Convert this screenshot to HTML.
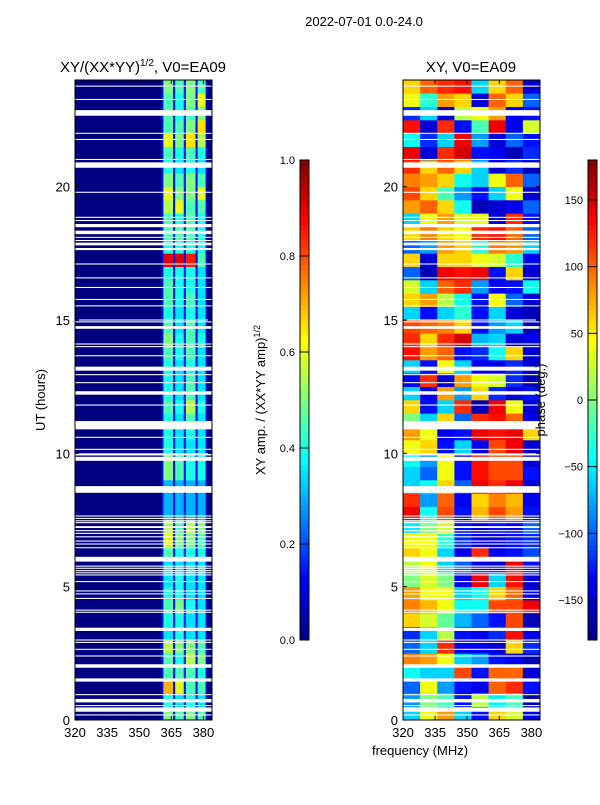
<!DOCTYPE html>
<html><head><meta charset="utf-8">
<style>
html,body{margin:0;padding:0;background:#fff;}
svg text{font-family:"Liberation Sans","DejaVu Sans",sans-serif;fill:#000;}
</style></head>
<body>
<svg id="fig" width="600" height="800" viewBox="0 0 600 800" xmlns="http://www.w3.org/2000/svg">
<text x="364" y="26" font-size="13" text-anchor="middle">2022-07-01 0.0-24.0</text>
<text x="143" y="72" font-size="15" text-anchor="middle">XY/(XX*YY)<tspan font-size="10" dy="-6">1/2</tspan><tspan dy="6">, V0=EA09</tspan></text>
<text x="471" y="72" font-size="15" text-anchor="middle">XY, V0=EA09</text>
<g id="ampPanel"></g>
<g id="phPanel"></g>
<g id="axes"></g>
<text transform="translate(45,400) rotate(-90)" font-size="13" text-anchor="middle">UT (hours)</text>
<text x="420" y="755" font-size="13" text-anchor="middle">frequency (MHz)</text>
<text transform="translate(265,400) rotate(-90)" font-size="13" text-anchor="middle">XY amp. / (XX*YY amp)<tspan font-size="9" dy="-5">1/2</tspan></text>
<text transform="translate(545,400) rotate(-90)" font-size="13" text-anchor="middle">phase (deg.)</text>
</svg>
<script>
// ---- data ----
const freqRange = [320, 384];
const timeRange = [0, 24];
const xTicks = [320, 335, 350, 365, 380];
const yTicks = [0, 5, 10, 15, 20];
const ampTicks = [0.0, 0.2, 0.4, 0.6, 0.8, 1.0];
const phaseTicks = [-150, -100, -50, 0, 50, 100, 150];
const ampBackground = 0.0;
const bandGapLevel = 0.14;
const bandRange = [360.5, 381.5];
const subbands = [[361.3,365.8],[366.8,370.8],[371.8,376.3],[377.3,381]];
// amplitude per half-hour row (row 0 = 0-0.5h) per subband
const ampRows = [
[0.5,0.45,0.5,0.45],[0.4,0.35,0.4,0.35],[0.7,0.6,0.45,0.45],[0.45,0.45,0.45,0.4],
[0.45,0.4,0.55,0.5],[0.55,0.5,0.5,0.45],[0.35,0.4,0.35,0.35],[0.4,0.4,0.35,0.35],
[0.45,0.5,0.4,0.35],[0.4,0.4,0.35,0.35],[0.35,0.4,0.35,0.35],[0.35,0.35,0.35,0.35],
[0.45,0.4,0.4,0.4],[0.6,0.5,0.5,0.45],[0.55,0.45,0.55,0.5],[0.3,0.3,0.3,0.3],
[0.3,0.3,0.3,0.3],[0.3,0.3,0.3,0.3],[0.5,0.45,0.4,0.4],[0.5,0.45,0.4,0.4],
[0.4,0.35,0.35,0.35],[0.4,0.35,0.4,0.35],[0.4,0.35,0.45,0.35],[0.45,0.4,0.55,0.4],
[0.4,0.35,0.45,0.35],[0.4,0.35,0.45,0.35],[0.4,0.35,0.4,0.35],[0.45,0.4,0.45,0.35],
[0.5,0.4,0.45,0.4],[0.45,0.35,0.45,0.35],[0.4,0.35,0.4,0.35],[0.45,0.4,0.45,0.35],
[0.45,0.4,0.4,0.35],[0.4,0.4,0.4,0.35],[0.9,0.9,0.85,0.45],[0.4,0.4,0.4,0.4],
[0.45,0.45,0.45,0.4],[0.45,0.4,0.45,0.4],[0.55,0.6,0.45,0.45],[0.6,0.5,0.5,0.6],
[0.5,0.45,0.5,0.45],[0.4,0.35,0.4,0.35],[0.45,0.4,0.45,0.4],[0.6,0.5,0.65,0.55],
[0.45,0.45,0.5,0.65],[0.45,0.4,0.45,0.5],[0.45,0.4,0.5,0.6],[0.5,0.45,0.5,0.45]
];
// phase (deg) per half-hour row (row 0 = 0-0.5h), 8 frequency bins of 8 MHz
const phaseRows = [
[-60,40,80,-60,-130,60,30,-140],[-80,0,-20,-130,20,-50,-20,-160],[-100,40,-80,-130,-140,100,120,-130],[-40,-60,-60,110,-130,100,100,-150],
[90,80,40,-60,-80,-130,-140,-160],[-100,-60,120,-140,-140,-150,60,-120],[-120,-60,20,-130,-140,-120,130,-140],[60,30,-10,-70,-100,-130,110,-160],
[90,70,40,-40,-40,110,110,140],[80,40,40,-60,-40,60,100,-140],[0,30,0,-140,140,-60,130,-150],[20,40,-60,-100,-140,-150,140,-130],
[60,40,-60,-140,120,-140,-130,-110],[40,40,-30,-120,-140,-150,-130,-120],[-50,0,30,-130,-150,-130,-140,-100],[140,-40,110,-130,70,110,80,-130],
[120,-80,100,-140,60,90,70,-140],[-60,-40,60,-100,140,120,140,-150],[-60,-100,40,-130,130,110,110,-130],[-40,-80,40,-130,130,110,110,-150],
[40,60,-130,-60,-140,110,140,-150],[80,40,-140,-130,140,130,140,60],[0,-60,60,-100,120,130,100,-140],[60,-130,-60,120,-160,140,40,-150],
[-60,-140,80,-80,60,-120,-150,-130],[-140,120,-150,80,40,30,-120,-160],[-60,-130,40,-60,-140,-140,-120,-150],[130,80,100,-130,-120,-40,60,-150],
[120,60,120,150,-70,-60,-150,-140],[110,100,90,60,-130,-80,-60,-160],[-60,-130,-60,-30,-130,-60,-150,-160],[60,80,20,-40,-130,40,-100,-150],
[30,-60,100,120,-80,-140,-130,-40],[-100,-160,140,130,140,-130,60,-150],[60,-150,60,60,40,30,-30,-140],[-100,-80,80,60,-30,90,80,-60],
[60,90,60,40,120,130,100,-100],[-60,40,80,30,40,-150,120,-130],[80,100,60,-40,-160,-150,-140,-100],[110,60,-20,-80,-130,-60,40,-150],
[90,80,60,-40,-60,40,100,-100],[120,60,100,60,-60,-150,-120,-160],[140,-150,120,150,-130,-140,-160,-120],[-40,-120,-60,140,-80,-150,-100,-130],
[130,-150,120,-130,-20,140,-140,30],[-120,-60,-150,20,40,80,-140,-130],[40,-30,80,60,-150,100,60,-100],[60,100,120,130,-60,60,100,-150]
];
// flagged (blank) time intervals in hours [start, end]
const flagged = [
[0.17,0.21],[0.31,0.47],[0.52,0.56],[0.66,0.79],[0.93,0.97],[1.44,1.56],[1.96,2.09],[2.38,2.42],[2.63,2.67],[2.89,2.93],[2.98,3.02],
[3.34,3.46],[4.02,4.06],[4.10,4.14],[4.54,4.58],[4.71,4.75],[4.82,4.86],[5.17,5.21],[5.42,5.46],[5.50,5.54],[5.58,5.62],[5.67,5.71],[5.75,5.79],
[5.94,6.12],[6.44,6.48],[6.58,6.62],[6.69,6.73],[6.85,6.89],[6.98,7.02],[7.08,7.12],[7.20,7.27],[7.38,7.42],[7.45,7.49],[7.54,7.58],[7.63,7.67],
[8.52,8.77],[9.72,9.87],[9.92,10.0],[10.13,10.17],[10.58,10.62],[10.9,11.21],[11.79,11.83],
[12.2,12.33],[12.63,12.67],[12.93,12.97],[13.1,13.25],[13.64,13.68],[13.98,14.02],[14.08,14.12],[14.67,14.77],[14.91,14.95],[14.98,15.02],
[15.51,15.55],[15.75,15.79],[16.2,16.24],[16.56,16.6],[17.08,17.12],[17.62,17.7],[17.8,17.9],[17.96,18.0],[18.08,18.12],[18.22,18.35],
[18.48,18.6],[18.71,18.75],[18.83,18.87],[19.77,19.81],[20.71,20.91],[21.0,21.04],[21.75,21.79],[21.98,22.02],[22.66,22.87],[23.25,23.29],[23.75,23.79]
];
// ---- layout ----
const panels = {amp:{x0:75,x1:212}, ph:{x0:403,x1:540}};
const Y0 = 720, Y1 = 80;
const NS = 'http://www.w3.org/2000/svg';
function yScale(h){ return Y0 + (h - timeRange[0]) / (timeRange[1]-timeRange[0]) * (Y1 - Y0); }
function xScale(p, f){ return p.x0 + (f - freqRange[0]) / (freqRange[1]-freqRange[0]) * (p.x1 - p.x0); }
function jet(v){
  v = Math.max(0, Math.min(1, v));
  const c = t => Math.round(255*Math.max(0, Math.min(1, t)));
  const r = c(1.5 - Math.abs(4*v - 3)), g = c(1.5 - Math.abs(4*v - 2)), b = c(1.5 - Math.abs(4*v - 1));
  return `rgb(${r},${g},${b})`;
}
function mk(tag, attrs, parent){
  const e = document.createElementNS(NS, tag);
  for (const k in attrs) e.setAttribute(k, attrs[k]);
  parent.appendChild(e); return e;
}
const ampG = document.getElementById('ampPanel');
const phG = document.getElementById('phPanel');
const axG = document.getElementById('axes');
const rowH = 0.5;
// amplitude heatmap
const pa = panels.amp;
const bg = mk('rect', {x:pa.x0, y:Y1, width:pa.x1-pa.x0, height:Y0-Y1, fill:jet(ampBackground)}, ampG);


const bgap = mk('rect', {x:xScale(pa, bandRange[0]), y:Y1, width:xScale(pa, bandRange[1])-xScale(pa, bandRange[0]), height:Y0-Y1, fill:jet(bandGapLevel)}, ampG);


ampRows.forEach((row, i) => {
  const ya = yScale(i*rowH + rowH), yb = yScale(i*rowH);
  row.forEach((v, j) => {
    const sb = subbands[j];
    const xa = xScale(pa, sb[0]), xb = xScale(pa, sb[1]);
    const r = mk('rect', {x:xa, y:ya, width:xb-xa, height:yb-ya+0.3, fill:jet(v)}, ampG);
    
    
  });
});
// phase heatmap
const pp = panels.ph;
const nb = phaseRows[0].length;
const binW = (freqRange[1]-freqRange[0]) / nb;
phaseRows.forEach((row, i) => {
  const ya = yScale(i*rowH + rowH), yb = yScale(i*rowH);
  row.forEach((v, j) => {
    const xa = xScale(pp, freqRange[0] + j*binW), xb = xScale(pp, freqRange[0] + (j+1)*binW);
    const r = mk('rect', {x:xa, y:ya, width:xb-xa+0.3, height:yb-ya+0.3, fill:jet((v+180)/360)}, phG);
    
    
  });
});
// flagged rows
[pa, pp].forEach(p => {
  flagged.forEach(f => {
    const ya = yScale(f[1]), yb = yScale(f[0]);
    const r = mk('rect', {x:p.x0, y:ya, width:p.x1-p.x0, height:Math.max(1, yb-ya), fill:'#fff'}, axG);
    
    
  });
});
// axes frames and ticks
[pa, pp].forEach(p => {
  const fr = mk('rect', {x:p.x0, y:Y1, width:p.x1-p.x0, height:Y0-Y1, fill:'none', stroke:'#000', 'stroke-width':1}, axG);
  
  
  xTicks.forEach(t => {
    const x = xScale(p, t);
    mk('line', {x1:x, x2:x, y1:Y0, y2:Y0-4, stroke:'#000'}, axG);
    mk('line', {x1:x, x2:x, y1:Y1, y2:Y1+4, stroke:'#000'}, axG);
    const tx = mk('text', {x:x, y:Y0+17, 'font-size':13, 'text-anchor':'middle'}, axG);
    tx.textContent = t;
    
    
  });
  yTicks.forEach(t => {
    const y = yScale(t);
    mk('line', {x1:p.x0, x2:p.x0+4, y1:y, y2:y, stroke:'#000'}, axG);
    mk('line', {x1:p.x1, x2:p.x1-4, y1:y, y2:y, stroke:'#000'}, axG);
    const tx = mk('text', {x:p.x0-5, y:y+5, 'font-size':13, 'text-anchor':'end'}, axG);
    tx.textContent = t;
    
    
  });
});
// colorbars
function colorbar(x, lo, hi, ticks, name){
  const cy0 = 640, cy1 = 160, w = 9;
  const n = 96;
  for (let k = 0; k < n; k++){
    const ya = cy0 - (k+1)*(cy0-cy1)/n;
    const r = mk('rect', {x:x, y:ya, width:w, height:(cy0-cy1)/n+0.5, fill:jet((k+0.5)/n)}, axG);
    
    
  }
  const fr = mk('rect', {x:x, y:cy1, width:w, height:cy0-cy1, fill:'none', stroke:'#000', 'stroke-width':1}, axG);
  
  
  ticks.forEach(t => {
    const y = cy0 - (t-lo)/(hi-lo)*(cy0-cy1);
    mk('line', {x1:x, x2:x+w, y1:y, y2:y, stroke:'#000'}, axG);
    const tx = mk('text', {x:x-5, y:y+4, 'font-size':11, 'text-anchor':'end'}, axG);
    tx.textContent = (name==='amp-colorbar') ? t.toFixed(1) : String(t).replace('-', '\u2212');
    
    
  });
}
colorbar(300, 0, 1, ampTicks, 'amp-colorbar');
colorbar(588, -180, 180, phaseTicks, 'phase-colorbar');
</script>
</body></html>
